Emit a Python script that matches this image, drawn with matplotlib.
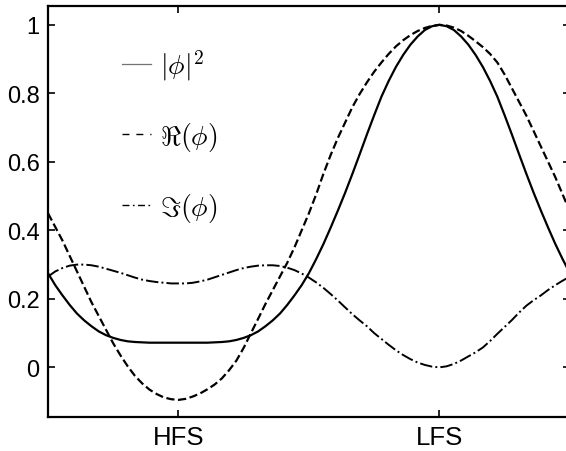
import numpy as np
import matplotlib
matplotlib.use("Agg")
import matplotlib.pyplot as plt
from matplotlib.lines import Line2D

# poloidal angle in degrees (HFS at 180, LFS at 360), every 5 deg from 90 to 450
theta = list(range(90, 451, 5))

abs_sq = [0.275, 0.24, 0.21, 0.182, 0.157, 0.137, 0.12, 0.105, 0.094, 0.086,
          0.08, 0.076, 0.074, 0.073, 0.072, 0.072, 0.072, 0.072, 0.072,
          0.072, 0.072, 0.072, 0.072, 0.073, 0.074, 0.076, 0.08, 0.086, 0.094,
          0.105, 0.12, 0.137, 0.157, 0.182, 0.21, 0.24, 0.275, 0.316, 0.36,
          0.408, 0.458, 0.51, 0.565, 0.622, 0.68, 0.736, 0.79, 0.836, 0.877,
          0.912, 0.942, 0.966, 0.985, 0.996, 1.0,
          0.996, 0.985, 0.966, 0.942, 0.912, 0.877, 0.836, 0.79, 0.736, 0.68,
          0.622, 0.565, 0.51, 0.458, 0.408, 0.36, 0.316, 0.275]

re_phi = [0.45, 0.41, 0.37, 0.325, 0.28, 0.235, 0.19, 0.15, 0.11, 0.07,
          0.035, 0.003, -0.025, -0.047, -0.065, -0.078, -0.088, -0.093, -0.095,
          -0.092, -0.085, -0.076, -0.064, -0.05, -0.032, -0.008, 0.02, 0.057, 0.10,
          0.142, 0.185, 0.225, 0.265, 0.305, 0.35, 0.40, 0.45, 0.505, 0.565,
          0.62, 0.67, 0.715, 0.76, 0.798, 0.832, 0.863, 0.89, 0.915, 0.937,
          0.955, 0.97, 0.982, 0.991, 0.997, 1.0,
          0.998, 0.992, 0.982, 0.968, 0.952, 0.935, 0.915, 0.89, 0.855, 0.815,
          0.775, 0.735, 0.69, 0.645, 0.60, 0.555, 0.505, 0.455]

im_phi = [0.265, 0.28, 0.29, 0.297, 0.30, 0.30, 0.298, 0.294, 0.288, 0.282,
          0.276, 0.269, 0.262, 0.256, 0.252, 0.249, 0.247, 0.245, 0.245,
          0.245, 0.247, 0.251, 0.256, 0.263, 0.27, 0.277, 0.284, 0.29, 0.294,
          0.297, 0.298, 0.298, 0.296, 0.291, 0.284, 0.274, 0.262, 0.248, 0.232,
          0.214, 0.195, 0.175, 0.155, 0.137, 0.12, 0.10, 0.083, 0.066, 0.05,
          0.036, 0.024, 0.014, 0.007, 0.002, 0.0,
          0.003, 0.01, 0.02, 0.032, 0.044, 0.058, 0.077, 0.098, 0.118, 0.138,
          0.16, 0.18, 0.196, 0.21, 0.226, 0.24, 0.253, 0.265]

xtick_pos = [180, 360]
xtick_labels = ["HFS", "LFS"]
yticks = [0, 0.2, 0.4, 0.6, 0.8, 1]
ytick_labels = ["0", "0.2", "0.4", "0.6", "0.8", "1"]

plt.rcParams['font.family'] = ['Liberation Sans', 'DejaVu Sans']
plt.rcParams['mathtext.fontset'] = 'cm'

fig = plt.figure(figsize=(5.66, 4.52), dpi=100)
ax = fig.add_axes([0.0848, 0.0752, 0.922, 0.9093])

ax.plot(theta, abs_sq, color='black', lw=1.6, ls='-')
ax.plot(theta, re_phi, color='black', lw=1.6, ls='--')
ax.plot(theta, im_phi, color='black', lw=1.4, ls='-.')

ax.set_xlim(90, 450)
ax.set_ylim(-0.145, 1.055)
ax.set_xticks(xtick_pos)
ax.set_xticklabels(xtick_labels)
ax.set_yticks(yticks)
ax.set_yticklabels(ytick_labels)
ax.tick_params(direction='in', top=True, right=True, length=5, width=1.2, pad=6)
ax.tick_params(axis='y', labelsize=17)
ax.tick_params(axis='x', labelsize=18.5)
for s in ax.spines.values():
    s.set_linewidth(1.6)

handles = [Line2D([], [], color='0.45', lw=0.9, ls='-'),
           Line2D([], [], color='black', lw=1.0, dashes=(5, 5)),
           Line2D([], [], color='black', lw=1.0, dashes=(5, 2.5, 1.2, 2.5))]
labels = [r'$|\phi|^2$', r'$\Re(\phi)$', r'$\Im(\phi)$']
ax.legend(handles, labels, loc='upper left', bbox_to_anchor=(0.142, 0.90),
          frameon=False, fontsize=20, handlelength=1.05, handletextpad=0.3,
          labelspacing=1.375, borderpad=0, borderaxespad=0)

fig.savefig("out.png", dpi=100)
